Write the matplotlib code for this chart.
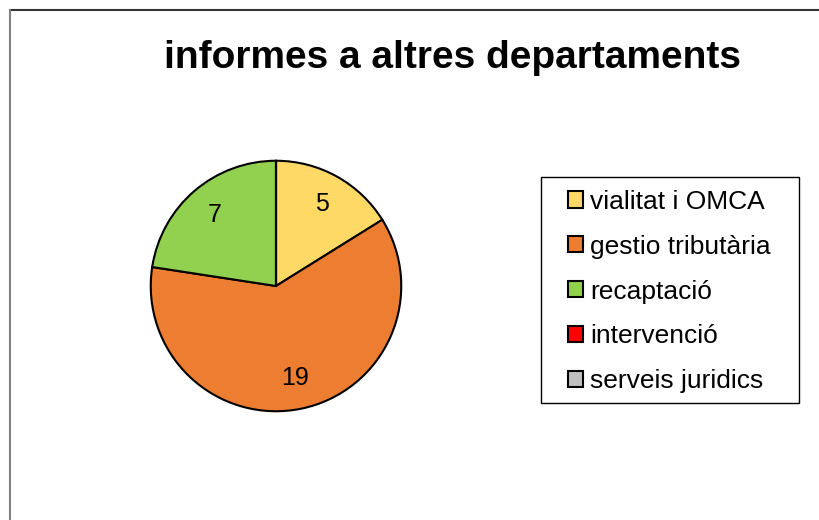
import matplotlib.pyplot as plt
from matplotlib.lines import Line2D
from matplotlib.patches import Rectangle

categories = ["vialitat i OMCA", "gestio tributària", "recaptació", "intervenció", "serveis juridics"]
values = [5, 19, 7, 0, 0]
colors = ["#FFD966", "#ED7D31", "#92D050", "#FF0000", "#C0C0C0"]
title = "informes a altres departaments"

plt.rcParams['font.family'] = ['Liberation Sans', 'DejaVu Sans']

W, H = 819, 520
fig = plt.figure(figsize=(W / 100, H / 100), dpi=100)

# chart frame (cropped at right and bottom)
fig.add_artist(Line2D([9.5 / W, 1], [1 - 9.5 / H, 1 - 9.5 / H], color="#333333", lw=1.5))
fig.add_artist(Line2D([9.5 / W, 9.5 / W], [0, 1 - 9.5 / H], color="#808080", lw=1.5))

# pie axes
cx, cy, r = 276, 286, 126.5
ax = fig.add_axes([(cx - r) / W, (H - cy - r) / H, 2 * r / W, 2 * r / H])
total = sum(values)
wedges, texts, autotexts = ax.pie(
    values, colors=colors, startangle=90, counterclock=False, radius=1,
    autopct=lambda p: f"{p * total / 100:.0f}" if p > 0 else "",
    pctdistance=0.75,
    wedgeprops=dict(edgecolor="black", linewidth=1.5),
    textprops=dict(fontsize=18, color="black"))
ax.set_xlim(-1.01, 1.01)
ax.set_ylim(-1.01, 1.01)
ax.set_aspect("equal")

fig.text(452 / W, 1 - 58 / H, title, ha="center", va="center", fontsize=28, fontweight="bold")

# legend box
fig.add_artist(Rectangle((541 / W, 1 - 403 / H), 258 / W, 226 / H, transform=fig.transFigure,
                         fill=False, edgecolor="black", lw=1.0))
leg = fig.legend(wedges, categories, loc="center", bbox_to_anchor=(669.5 / W, 1 - 291.5 / H),
                 fontsize=19, frameon=False,
                 handlelength=0.57, handleheight=0.57, handletextpad=0.27,
                 labelspacing=0.79, borderpad=0.2, borderaxespad=0)
for h in leg.legend_handles:
    h.set_edgecolor("black")
    h.set_linewidth(1.5)

plt.savefig("out.png", dpi=100)
